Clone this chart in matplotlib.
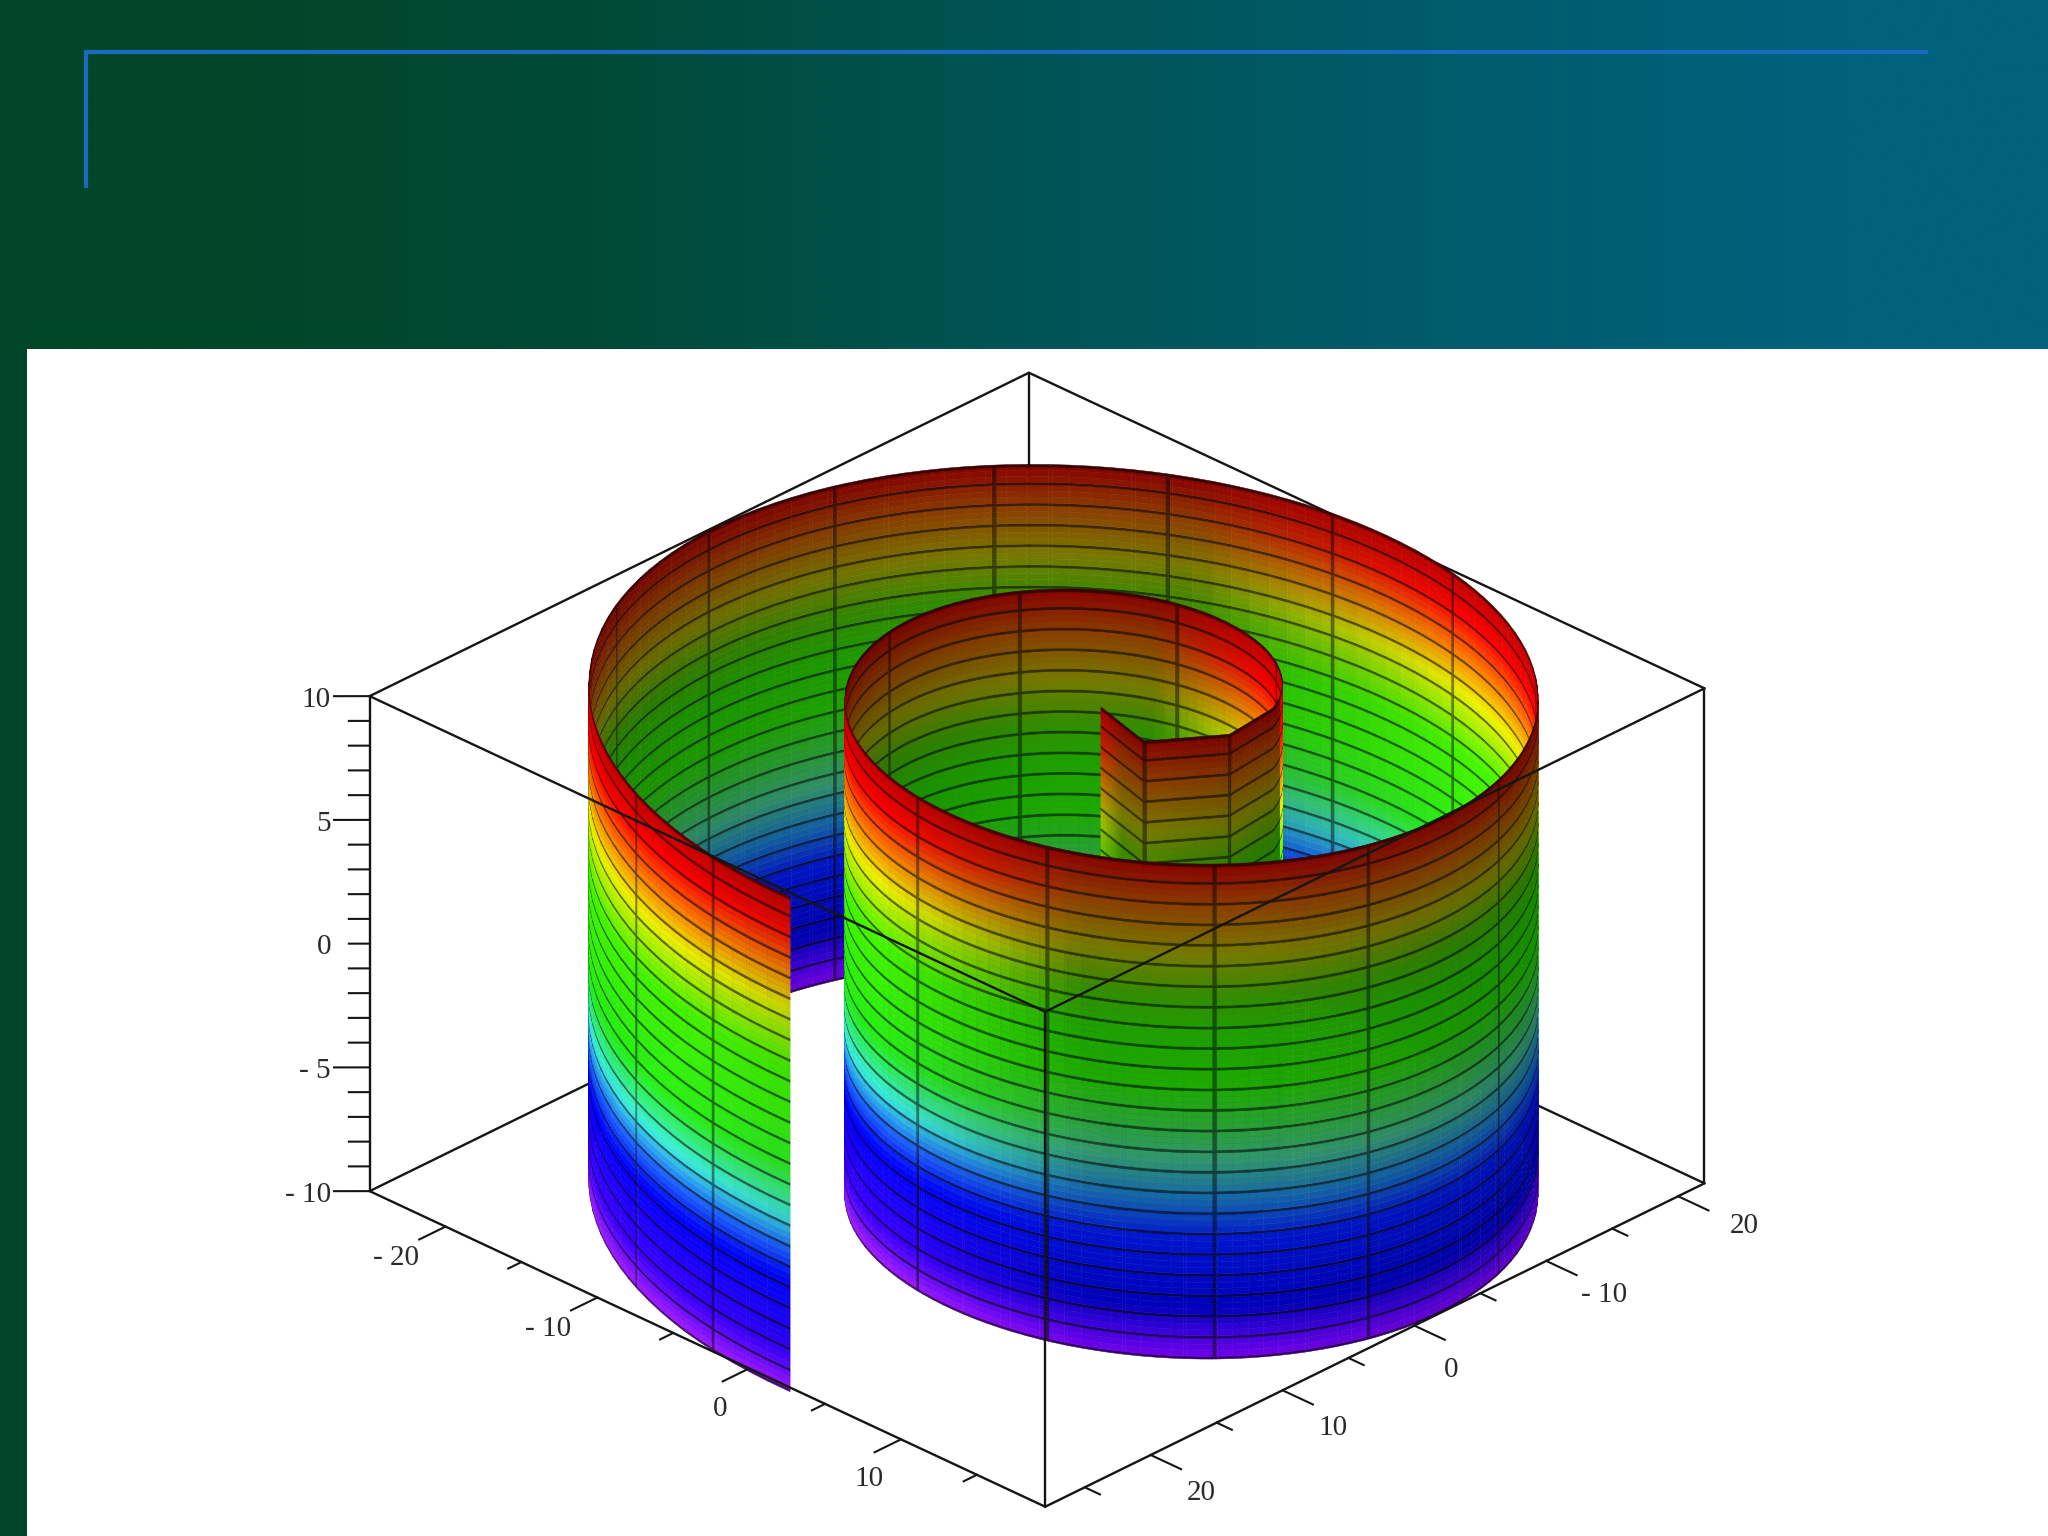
import numpy as np
import matplotlib
matplotlib.use("Agg")
import matplotlib.pyplot as plt
from matplotlib.patches import Rectangle
from mpl_toolkits.mplot3d import proj3d
from mpl_toolkits.mplot3d.art3d import Poly3DCollection

# ---- data ----
wall_angle_deg = [103, 145, 187, 216, 230, 240, 250, 260, 270, 280, 290, 300, 310, 320, 330, 340, 350, 360, 370,
                  380, 390, 400, 410, 420, 430, 440, 450, 460, 470, 480, 490, 500, 510, 520, 530, 540, 550, 560,
                  570, 580, 590, 600, 610, 620, 630, 640, 650, 660, 670, 680, 690, 700, 710, 720, 730, 740, 750,
                  760, 770, 780, 790, 800, 810, 816]
wall_radius = [1.85, 5.06, 6.53, 7.54, 8.03, 8.38, 8.73, 9.08, 9.42, 9.77, 10.12, 10.47, 10.82, 11.17, 11.52, 11.87,
               12.22, 12.57, 12.92, 13.26, 13.61, 13.96, 14.31, 14.66, 15.01, 15.36, 15.71, 16.06, 16.41, 16.76,
               17.10, 17.45, 17.80, 18.15, 18.50, 18.85, 19.20, 19.55, 19.90, 20.25, 20.59, 20.94, 21.29, 21.64,
               21.99, 22.34, 22.69, 23.04, 23.39, 23.74, 24.09, 24.43, 24.78, 25.13, 25.48, 25.83, 26.18, 26.53,
               26.88, 27.23, 27.58, 27.93, 28.27, 28.48]
shift_deg = [103, 216, 338, 400, 505, 600, 677, 761, 816]
shift_sideways = [0.0, 0.1, 0.3, 0.35, 0.33, 0.33, 0.3, 0.22, 0.0]
shift_down = [0.0, 0.3, 1.0, 1.0, 0.8, 0.4, 0.0, 0.0, 0.0]
meridian_deg = [145, 187, 250, 296.5, 338, 376, 412, 449, 477, 505, 531, 561, 592, 623, 644, 666, 687, 707, 726,
                747, 768, 790, 805]
level_z = [-10, -9.17, -8.33, -7.5, -6.67, -5.83, -5, -4.17, -3.33, -2.5, -1.67, -0.83, 0, 0.83, 1.67, 2.5, 3.33,
           4.17, 5, 5.83, 6.67, 7.5, 8.33, 9.17, 10]
# colour of the wall by height, on the lit side
lit_z = [-10, -8.5, -5.5, -4.3, -3, -1, 3, 5.5, 7, 8.5, 10]
lit_r = [170, 60, 0, 30, 60, 40, 70, 240, 255, 255, 190]
lit_g = [30, 0, 0, 100, 240, 240, 245, 240, 120, 0, 0]
lit_b = [255, 255, 255, 255, 220, 20, 0, 0, 0, 0, 0]
# colour of the wall by height, on the shaded side
dim_z = [-10, -9, -7.9, -5.2, -3.6, -2, -0.6, 1, 3, 4.6, 6.4, 8.3, 10]
dim_r = [120, 60, 0, 0, 20, 50, 40, 30, 30, 50, 120, 140, 135]
dim_g = [0, 0, 0, 20, 100, 150, 160, 170, 160, 140, 120, 60, 0]
dim_b = [235, 220, 185, 205, 170, 110, 50, 0, 0, 0, 0, 0, 0]

x_limits = [-25, 19.5]
y_limits = [28, -22]
z_limits = [-10, 10]
x_major = [-20, -10, 0, 10]
x_minor = [-15, -5, 5, 15]
y_major = [-20, -10, 0, 10, 20]
y_minor = [-15, -5, 5, 15, 25]
z_major = [-10, -5, 5, 10]
z_minor = [-9, -8, -7, -6, -4, -3, -2, -1, 0, 1, 2, 3, 4, 6, 7, 8, 9]
x_label_at = [-19.5, -9.5, 1.8, 11.6]
y_label_at = [-20.1, -9.4, 2.2, 11.1, 21.1]
z_label_at = [-10.15, -5.15, -0.15, 4.85, 9.85]
x_labels = ["- 20", "- 10", "0", "10"]
y_labels = ["20", "- 10", "0", "10", "20"]
z_labels = ["- 10", "- 5", "0", "5", "10"]
bg_colors = [(0, 70, 40), (0, 74, 55), (0, 84, 85), (0, 91, 107), (0, 98, 125)]

W, H = 2048, 1536
fig = plt.figure(figsize=(W / 100, H / 100), dpi=100, facecolor="white")

# ---- background ----
bg = fig.add_axes([0, 0, 1, 1], zorder=0)
bg.set_xlim(0, W)
bg.set_ylim(H, 0)
bg.axis("off")
bg.imshow(np.array(bg_colors, dtype=float)[None, :, :] / 255, extent=[0, W, H, 0], aspect="auto",
          interpolation="bilinear")
bg.set_xlim(0, W)
bg.set_ylim(H, 0)
bg.add_patch(Rectangle((27, 349), W - 27, H - 349, fc="white", ec="none"))
bg.add_patch(Rectangle((0, 349), 27, H - 349, fc="#00462a", ec="none"))
bg.plot([86, 86, 1928], [188, 52, 52], color="#1a6abf", lw=3.0, solid_joinstyle="miter", solid_capstyle="butt")

# ---- 3D axes ----
ax = fig.add_axes([0, 0, 1, 1], projection="3d", computed_zorder=False, zorder=1, proj_type="ortho")
ax.patch.set_alpha(0)
ax.set_axis_off()
ax.set_xlim(*x_limits)
ax.set_ylim(*y_limits)
ax.set_zlim(*z_limits)
ax.view_init(elev=28.6, azim=-45.7)
aspect = (725, 725, 433)
zoom = 1.0
ax.set_box_aspect(aspect, zoom=zoom)


def pixel(x, y, z):
    X, Y, _ = proj3d.proj_transform(x, y, z, ax.get_proj())
    return ax.transData.transform((X, Y))


# place the box on the picture: left and right top corners
S = 2048 / 1568
target_left = np.array([283 * S, H - 533 * S])
target_right = np.array([1305 * S, H - 527 * S])
pos = [0.0, 0.0, 1.0, 1.0]
for _ in range(4):
    ax.set_position(pos)
    ax.set_box_aspect(aspect, zoom=zoom)
    ax.apply_aspect()
    pl = pixel(x_limits[0], y_limits[0], z_limits[1])
    pr = pixel(x_limits[1], y_limits[1], z_limits[1])
    zoom *= (target_right[0] - target_left[0]) / (pr[0] - pl[0])
    ax.set_box_aspect(aspect, zoom=zoom)
    pl = pixel(x_limits[0], y_limits[0], z_limits[1])
    pr = pixel(x_limits[1], y_limits[1], z_limits[1])
    mid = (pl + pr) / 2
    goal = (target_left + target_right) / 2
    pos = [pos[0] + (goal[0] - mid[0]) / W, pos[1] + (goal[1] - mid[1]) / H, 1.0, 1.0]
ax.set_position(pos)
ax.apply_aspect()

# ---- surface ----
deg_knots = np.array(wall_angle_deg, dtype=float)
rad_knots = np.radians(deg_knots)
r_knots = np.array(wall_radius, dtype=float)
kx = -r_knots * np.cos(rad_knots)
ky = r_knots * np.sin(rad_knots)

half_w = {m: np.degrees(0.11 / np.interp(m, deg_knots, r_knots)) for m in meridian_deg}
breaks = set(np.arange(deg_knots[0], deg_knots[-1], 2.5).tolist()) | set(wall_angle_deg)
for m, w in half_w.items():
    breaks |= {m - w, m + w}
t = np.array(sorted(b for b in breaks if deg_knots[0] <= b <= deg_knots[-1]))
# straight chords in the tight inner turn, round further out
chord_x = np.interp(t, deg_knots, kx)
chord_y = np.interp(t, deg_knots, ky)
rr = np.interp(t, deg_knots, r_knots)
round_x = -rr * np.cos(np.radians(t))
round_y = rr * np.sin(np.radians(t))
outer = t > wall_angle_deg[3]
px_ = np.where(outer, round_x, chord_x)
py_ = np.where(outer, round_y, chord_y)
s1 = np.interp(t, shift_deg, shift_sideways)
s2 = np.interp(t, shift_deg, shift_down)
px_ = px_ + s1 + 0.35 * s2
py_ = py_ - 1.15 * s1 + 0.4 * s2

z_edges, z_dark = [], []
for a, b in zip(level_z[:-1], level_z[1:]):
    strip = 0.11
    sub = np.linspace(a + strip, b, 4)
    z_edges += [a] + sub[:-1].tolist()
    z_dark += [True, False, False, False]
z_edges.append(level_z[-1])
z_edges = np.array(z_edges)
z_dark = np.array(z_dark)
z_edges = np.insert(z_edges, -1, level_z[-1] - 0.12)
z_dark = np.append(z_dark, True)

zm = (z_edges[:-1] + z_edges[1:]) / 2
lit = np.stack([np.interp(zm, lit_z, lit_r), np.interp(zm, lit_z, lit_g), np.interp(zm, lit_z, lit_b)], axis=1) / 255
dim = np.stack([np.interp(zm, dim_z, dim_r), np.interp(zm, dim_z, dim_g), np.interp(zm, dim_z, dim_b)], axis=1) / 255

tm = (t[:-1] + t[1:]) / 2
nx, ny = -np.cos(np.radians(tm)), np.sin(np.radians(tm))
facing = np.sign(nx * 0.707 + ny * 0.707)
facing[facing == 0] = 1
lx, ly = -0.5, 0.866
cosl = facing * (nx * lx + ny * ly)
mix = np.clip((cosl - 0.45) / 0.5, 0, 1)
gain = 1 + 0.18 * np.minimum(cosl, 0)
is_meridian = np.zeros_like(tm, dtype=bool)
for m, w in half_w.items():
    is_meridian |= np.abs(tm - m) < w

nt, nz = len(tm), len(zm)
verts = np.zeros((nt * nz, 4, 3))
cols = np.zeros((nt * nz, 4))
k = 0
for i in range(nt):
    for j in range(nz):
        verts[k] = [[px_[i], py_[i], z_edges[j]], [px_[i + 1], py_[i + 1], z_edges[j]],
                    [px_[i + 1], py_[i + 1], z_edges[j + 1]], [px_[i], py_[i], z_edges[j + 1]]]
        c = (dim[j] * (1 - mix[i]) + lit[j] * mix[i]) * gain[i]
        if z_dark[j]:
            c = c * 0.45
        elif is_meridian[i]:
            c = c * 0.55
        cols[k, :3] = np.clip(c, 0, 1)
        cols[k, 3] = 1
        k += 1
poly = Poly3DCollection(verts, facecolors=cols, edgecolors=cols, linewidths=0.35, zorder=5, zsort="average")
ax.add_collection3d(poly)

# ---- box ----
x0, x1 = x_limits
y0, y1 = y_limits  # y0 = 28 is the front side, y1 = -22 the back side
z0, z1 = z_limits
ln = dict(color="#151515", lw=1.7, solid_capstyle="round")
back_edges = [((x0, y1, z1), (x0, y0, z1)), ((x0, y1, z1), (x1, y1, z1)), ((x0, y1, z0), (x0, y0, z0)),
              ((x0, y1, z0), (x1, y1, z0)), ((x0, y1, z0), (x0, y1, z1)), ((x0, y0, z0), (x0, y0, z1)),
              ((x1, y1, z0), (x1, y1, z1))]
front_edges = [((x0, y0, z1), (x1, y0, z1)), ((x1, y1, z1), (x1, y0, z1)), ((x1, y0, z0), (x1, y0, z1)),
               ((x0, y0, z0), (x1, y0, z0)), ((x1, y1, z0), (x1, y0, z0))]
for a, b in back_edges:
    ax.plot([a[0], b[0]], [a[1], b[1]], [a[2], b[2]], zorder=2, **ln)
for a, b in front_edges:
    ax.plot([a[0], b[0]], [a[1], b[1]], [a[2], b[2]], zorder=8, **ln)

# ---- ticks and labels ----
tk = dict(color="#151515", lw=1.5, zorder=8)
txt = dict(family="Liberation Serif", fontsize=21, color="#2a2a2a", zorder=9)
for v, at, lab in zip(x_major, x_label_at, x_labels):
    ax.plot([v, v], [y0, y0 + 2.0], [z0, z0], **tk)
    ax.text(at, y0 + 4.3, z0, lab, ha="center", va="center", **txt)
for v in x_minor:
    ax.plot([v, v], [y0, y0 + 1.0], [z0, z0], **tk)
for v, at, lab in zip(y_major, y_label_at, y_labels):
    ax.plot([x1, x1 + 2.0], [v, v], [z0, z0], **tk)
    ax.text(x1 + 4.3, at, z0, lab, ha="center", va="center", **txt)
for v in y_minor:
    ax.plot([x1, x1 + 1.0], [v, v], [z0, z0], **tk)
for v in z_major:
    ax.plot([x0, x0 - 1.2], [y0, y0 + 1.32], [v, v], **tk)
for at, lab in zip(z_label_at, z_labels):
    ax.text(x0 - 1.3, y0 + 1.43, at, lab, ha="right", va="center", **txt)
for v in z_minor:
    ax.plot([x0, x0 - 0.7], [y0, y0 + 0.77], [v, v], **tk)

fig.savefig("out.png", dpi=100)
